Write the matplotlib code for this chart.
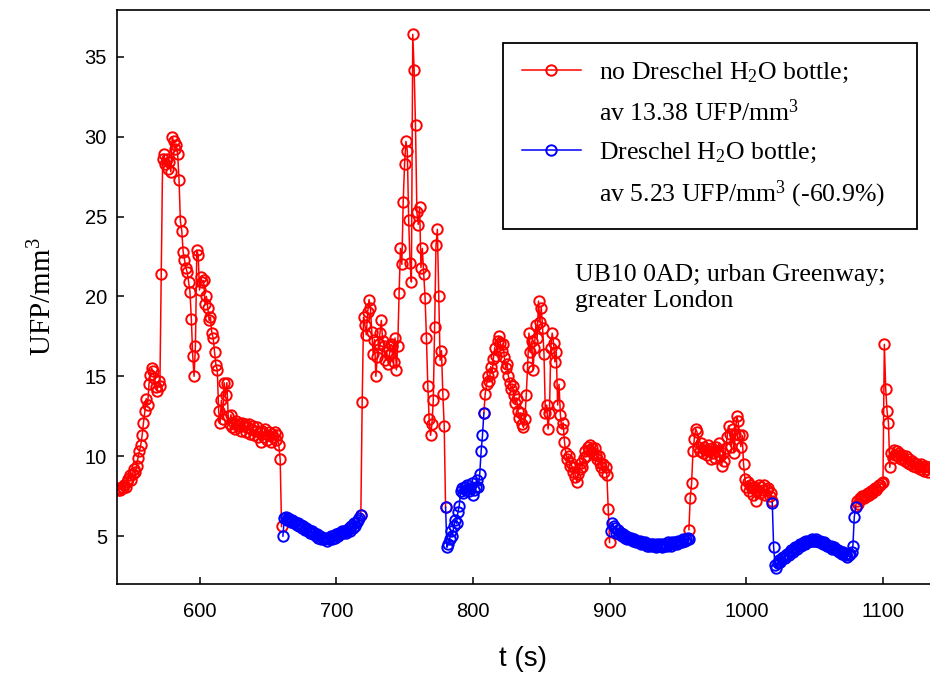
import matplotlib
matplotlib.use("Agg")
import matplotlib.pyplot as plt
import numpy as np
from matplotlib.lines import Line2D

# UFP readings, one per second, split where the Dreschel bottle was switched in/out
# (start time in s, values in UFP/mm^3)
red_start_1 = 540
red_vals_1 = [7.9, 8.0, 7.9, 8.1, 8.0, 8.2, 8.1, 8.4, 8.6, 8.8,
              8.5, 8.9, 9.2, 9.0, 9.4, 9.9, 10.3, 10.7, 11.3, 12.1,
              12.8, 13.6, 13.2, 14.5, 15.1, 15.5, 15.3, 14.9, 14.3, 14.1,
              14.7, 14.4, 21.4, 28.6, 28.9, 28.3, 28.6, 28.0, 28.4, 27.8,
              30.0, 29.7, 29.2, 29.5, 28.9, 27.3, 24.7, 24.1, 22.8, 22.3,
              21.8, 21.5, 20.9, 20.3, 18.6, 16.3, 15.0, 16.9, 22.9, 22.6,
              20.4, 21.2, 20.9, 21.0, 19.5, 20.0, 19.3, 18.5, 18.7, 17.7,
              17.4, 16.5, 15.7, 15.4, 12.8, 12.1, 13.5, 12.3, 14.6, 13.8,
              14.6, 12.5, 12.0, 12.6, 11.8, 12.1, 11.7, 12.2, 11.9, 12.0,
              11.6, 12.1, 11.9, 12.0, 11.5, 11.8, 12.0, 11.4, 11.7, 11.9,
              11.3, 11.6, 11.8, 11.2, 11.5, 10.9, 11.6, 11.2, 11.7, 11.0,
              11.3, 11.5, 10.9, 11.4, 11.2, 11.5, 11.0, 11.3, 10.7, 9.8,
              5.6]

blue_start_1 = 661
blue_vals_1 = [5.0, 6.1, 6.2, 6.0, 6.1, 6.0, 5.9, 6.0, 5.8, 5.9,
               5.7, 5.8, 5.6, 5.7, 5.5, 5.6, 5.4, 5.5, 5.3, 5.4,
               5.2, 5.3, 5.1, 5.2, 5.0, 5.1, 4.9, 5.0, 4.8, 4.9,
               4.8, 4.9, 4.7, 4.9, 4.8, 5.0, 4.8, 5.0, 4.9, 5.1,
               5.0, 5.2, 5.1, 5.3, 5.2, 5.3, 5.2, 5.4, 5.5, 5.3,
               5.6, 5.5, 5.8, 5.6, 5.9, 6.0, 6.1, 6.3]

red_start_2 = 718
red_vals_2 = [6.3, 13.4, 18.7, 18.2, 17.6, 19.0, 19.8, 19.3, 17.8, 16.4,
              17.3, 15.0, 16.2, 17.0, 17.7, 18.5, 17.2, 16.9, 16.0, 16.5,
              15.8, 16.4, 17.0, 16.9, 15.9, 17.4, 15.4, 16.9, 20.2, 23.0,
              22.0, 25.9, 28.3, 29.7, 29.1, 24.8, 22.1, 20.9, 36.4, 34.2,
              30.7, 25.3, 24.5, 25.6, 21.8, 23.0, 21.4, 19.9, 17.4, 14.4,
              12.3, 11.3, 12.0, 13.5, 18.1, 23.2, 24.2, 20.0, 16.0, 16.6,
              13.9, 11.9, 6.8]

blue_start_2 = 780
blue_vals_2 = [6.8, 4.3, 4.5, 4.8, 5.3, 5.0, 5.6, 6.0, 5.8, 6.5,
               6.9, 7.8, 8.0, 7.7, 8.1, 7.9, 8.2, 7.8, 8.0, 8.3,
               7.6, 7.9, 8.1, 8.5, 8.1, 8.9, 10.3, 11.3, 12.7]

red_start_3 = 808
red_vals_3 = [12.7, 13.9, 14.5, 15.0, 14.7, 15.6, 15.2, 16.1, 16.8, 16.3,
              17.2, 17.5, 17.1, 16.6, 17.0, 16.2, 15.5, 15.8, 15.0, 14.6,
              14.2, 14.4, 13.8, 13.3, 13.6, 12.8, 12.4, 12.7, 12.0, 11.8,
              12.3, 13.8, 15.6, 17.7, 16.5, 17.2, 15.4, 16.8, 18.2, 17.4,
              19.7, 18.4, 19.3, 18.0, 16.4, 12.7, 13.2, 11.7, 12.7, 16.8,
              17.7, 17.1, 15.9, 16.5, 13.2, 14.5, 12.6, 11.7, 12.1, 10.9,
              10.2, 9.8, 10.0, 9.4, 9.6, 9.0, 9.3, 8.7, 8.4, 8.9,
              9.2, 9.6, 9.3, 9.9, 10.3, 10.0, 10.6, 10.4, 10.7, 10.5,
              10.2, 10.5, 10.1, 9.8, 10.0, 9.6, 9.3, 9.5, 9.0, 9.3,
              8.8, 6.7, 4.6]

blue_start_3 = 901
blue_vals_3 = [5.3, 5.8, 5.6, 5.5, 5.2, 5.4, 5.1, 5.2, 5.0, 5.1,
               4.9, 5.0, 4.8, 4.9, 4.8, 4.9, 4.7, 4.8, 4.6, 4.7,
               4.6, 4.7, 4.5, 4.6, 4.5, 4.6, 4.4, 4.5, 4.4, 4.5,
               4.4, 4.5, 4.4, 4.3, 4.5, 4.4, 4.5, 4.3, 4.5, 4.4,
               4.5, 4.4, 4.6, 4.5, 4.4, 4.6, 4.5, 4.6, 4.5, 4.7,
               4.6, 4.7, 4.6, 4.8, 4.7, 4.8, 4.9, 4.8]

red_start_4 = 958
red_vals_4 = [5.4, 7.4, 8.3, 10.3, 11.1, 11.7, 11.5, 10.6, 10.3, 10.8,
              10.2, 10.6, 10.4, 10.1, 10.7, 10.3, 9.8, 10.5, 10.2, 9.9,
              10.6, 10.3, 10.8, 10.0, 9.4, 10.2, 9.7, 10.5, 11.2, 11.9,
              11.4, 10.6, 11.7, 10.2, 11.4, 12.5, 12.2, 11.3, 10.6, 11.3,
              9.5, 8.6, 8.1, 8.4, 7.8, 8.2, 8.0, 7.6, 8.1, 7.2,
              7.9, 8.2, 7.7, 8.1, 7.9, 8.2, 7.6, 7.9, 8.0, 7.5,
              7.7, 7.2]

blue_start_4 = 1019
blue_vals_4 = [7.1, 4.3, 3.2, 3.0, 3.3, 3.5, 3.4, 3.6, 3.7, 3.6,
               3.8, 3.9, 3.8, 4.0, 4.1, 4.0, 4.2, 4.3, 4.2, 4.4,
               4.5, 4.4, 4.5, 4.6, 4.5, 4.7, 4.6, 4.7, 4.7, 4.8,
               4.7, 4.7, 4.8, 4.7, 4.6, 4.7, 4.6, 4.5, 4.6, 4.5,
               4.4, 4.4, 4.3, 4.4, 4.2, 4.3, 4.2, 4.1, 4.1, 4.0,
               4.0, 3.9, 4.0, 3.8, 3.9, 3.7, 3.8, 3.9, 4.0, 4.4,
               6.2, 6.8]

red_start_5 = 1080
red_vals_5 = [6.9, 7.2, 7.0, 7.4, 7.3, 7.5, 7.4, 7.6, 7.5, 7.7,
              7.6, 7.8, 7.7, 7.9, 8.0, 7.9, 8.1, 8.2, 8.2, 8.3,
              8.4, 17.0, 14.2, 12.8, 12.1, 9.3, 10.2, 9.9, 10.4, 10.1,
              10.3, 10.0, 10.2, 9.8, 10.1, 9.9, 9.7, 10.0, 9.6, 9.8,
              9.5, 9.7, 9.4, 9.6, 9.3, 9.5, 9.4, 9.2, 9.5, 9.3,
              9.1, 9.4, 9.2, 9.0, 9.3]

red_segments = [(red_start_1, red_vals_1), (red_start_2, red_vals_2),
                (red_start_3, red_vals_3), (red_start_4, red_vals_4),
                (red_start_5, red_vals_5)]
blue_segments = [(blue_start_1, blue_vals_1), (blue_start_2, blue_vals_2),
                 (blue_start_3, blue_vals_3), (blue_start_4, blue_vals_4)]

red_label_1 = "no Dreschel H$\\mathregular{_2}$O bottle;"
red_label_2 = "av 13.38 UFP/mm$\\mathregular{^3}$"
blue_label_1 = "Dreschel H$\\mathregular{_2}$O bottle;"
blue_label_2 = "av 5.23 UFP/mm$\\mathregular{^3}$ (-60.9%)"
site_note = "UB10 0AD; urban Greenway;\ngreater London"


def join_segments(segments):
    ts, vs = [], []
    for t0, vals in segments:
        ts += list(t0 + np.arange(len(vals))) + [np.nan]
        vs += list(vals) + [np.nan]
    return np.array(ts, dtype=float), np.array(vs, dtype=float)


t_red, u_red = join_segments(red_segments)
t_blue, u_blue = join_segments(blue_segments)

plt.rcParams["font.family"] = ["Liberation Sans", "DejaVu Sans"]

W, H = 930, 680
fig = plt.figure(figsize=(9.3, 6.8), dpi=100)
ax = fig.add_axes([116.7 / W, 1 - 584 / H, 1 - 116.7 / W, (584 - 9.6) / H])

style = dict(marker="o", mfc="none", ms=7.5, mew=1.4, lw=1.1)
ax.plot(t_red, u_red, color="#ff0000", **style)
ax.plot(t_blue, u_blue, color="#0000ff", **style)

ax.set_xlim(539.4, 1134.4)
ax.set_ylim(2.0, 37.95)
ax.set_xticks([600, 700, 800, 900, 1000, 1100])
ax.set_yticks([5, 10, 15, 20, 25, 30, 35])
ax.tick_params(direction="in", length=5, width=1.1, top=False, right=False,
               labelsize=14.5, colors="black")
ax.tick_params(axis="x", pad=13)
ax.tick_params(axis="y", pad=7)
ax.spines["right"].set_visible(False)
for s in ("left", "bottom", "top"):
    ax.spines[s].set_linewidth(1.2)

ax.set_xlabel("t (s)", fontsize=20, va="top")
ax.xaxis.set_label_coords(0.5, -0.108)
ax.set_ylabel("UFP/mm$\\mathregular{^3}$", family="Liberation Serif", fontsize=21)
ax.yaxis.set_label_coords(-0.073, 0.5)

# va='baseline' on multi-line text anchors the last line
ax.text(0.5635, 0.4829, site_note, transform=ax.transAxes, va="baseline",
        ha="left", family="Liberation Serif", fontsize=18.5, linespacing=1.22)

red_h = Line2D([], [], color="#ff0000", **style)
blue_h = Line2D([], [], color="#0000ff", **style)
blank = Line2D([], [], linestyle="none")
leg = ax.legend([red_h, blank, blue_h, blank],
                [red_label_1, red_label_2, blue_label_1, blue_label_2],
                loc="upper left",
                bbox_to_anchor=(503 / W, 1 - 228 / H, 414 / W, 185.3 / H),
                bbox_transform=fig.transFigure, borderaxespad=0, mode="expand",
                frameon=True, fancybox=False, edgecolor="black", framealpha=1,
                borderpad=0.72, labelspacing=0.56, handlelength=2.3,
                handletextpad=0.7, numpoints=1,
                prop={"family": "Liberation Serif", "size": 18.5})
leg.get_frame().set_linewidth(1.3)

fig.savefig("out.png", dpi=100)
